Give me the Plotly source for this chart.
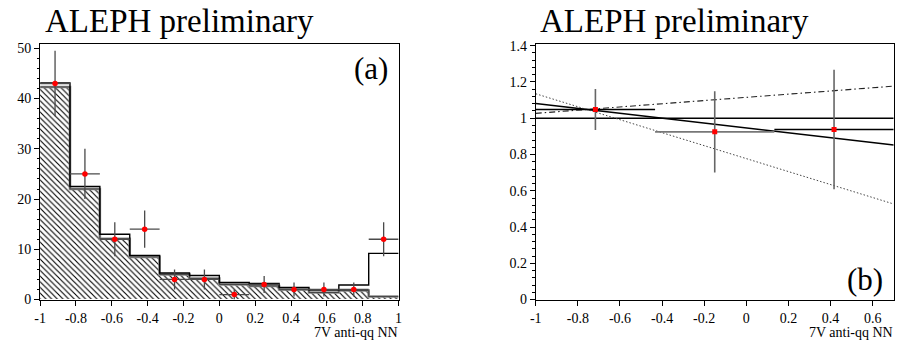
import numpy as np
import plotly.graph_objects as go

# ---------------- panel (a) data ----------------
bin_edges = [-1.0, -5/6, -4/6, -3/6, -2/6, -1/6, 0.0, 1/6, 2/6, 3/6, 4/6, 5/6, 1.0]
data_counts = [43, 25, 12, 14, 4, 4, 1, 3, 2, 2, 2, 12]
data_errors = [6.5, 5.0, 3.4, 3.7, 2.0, 2.0, 1.0, 1.7, 1.4, 1.4, 1.4, 3.4]
mc_total = [43.1, 22.5, 13.0, 8.8, 5.3, 4.8, 3.4, 3.2, 2.4, 1.9, 2.9, 9.2]
mc_background = [42.3, 22.0, 12.1, 8.5, 5.0, 4.2, 3.0, 2.7, 2.0, 1.4, 1.8, 0.6]
x_tick_vals_a = [-1, -0.8, -0.6, -0.4, -0.2, 0, 0.2, 0.4, 0.6, 0.8, 1]
x_tick_text_a = ["-1", "-0.8", "-0.6", "-0.4", "-0.2", "0", "0.2", "0.4", "0.6", "0.8", "1"]
y_tick_vals_a = [0, 10, 20, 30, 40, 50]

# ---------------- panel (b) data ----------------
ratio_edges = [-1.0, -0.4333, 0.1333, 0.7]
ratio_values = [1.048, 0.925, 0.938]
ratio_errors = [0.113, 0.224, 0.33]
fit_x = [-1.0, 0.7]
unity_y = [1.0, 1.0]
fit_central_y = [1.081, 0.853]
fit_up_y = [1.027, 1.177]
fit_down_y = [1.135, 0.527]
x_tick_vals_b = [-1, -0.8, -0.6, -0.4, -0.2, 0, 0.2, 0.4, 0.6]
x_tick_text_b = ["-1", "-0.8", "-0.6", "-0.4", "-0.2", "0", "0.2", "0.4", "0.6"]
y_tick_vals_b = [0, 0.2, 0.4, 0.6, 0.8, 1, 1.2, 1.4]
y_tick_text_b = ["0", "0.2", "0.4", "0.6", "0.8", "1", "1.2", "1.4"]

# ---------------- styling ----------------
W, H = 899, 348
FONT = "Liberation Serif"
ERR_COL = "#4a4a4a"
hbar_colors_b = ["black", "#777777", "black"]


def px_x(p):
    return p / W


def px_y(p):
    return 1 - p / H


edges = np.array(bin_edges)
centers = (edges[:-1] + edges[1:]) / 2
widths = edges[1:] - edges[:-1]

fig = go.Figure()

# hatched background
fig.add_trace(go.Bar(
    x=centers, y=mc_background, width=widths, xaxis="x", yaxis="y",
    marker=dict(color="white", line=dict(width=0),
                pattern=dict(shape="\\", size=4, solidity=0.28,
                             fgcolor="black", bgcolor="white", fillmode="replace")),
    showlegend=False, hoverinfo="skip"))

# background outline (gray band)
fig.add_trace(go.Scatter(
    x=edges, y=list(mc_background) + [mc_background[-1]], mode="lines",
    line=dict(shape="hv", color="#8a8a8a", width=2.6), xaxis="x", yaxis="y",
    showlegend=False, hoverinfo="skip"))
fig.add_trace(go.Scatter(
    x=edges, y=list(mc_background) + [mc_background[-1]], mode="lines",
    line=dict(shape="hv", color="#333333", width=0.8), xaxis="x", yaxis="y",
    showlegend=False, hoverinfo="skip"))

# total MC outline
fig.add_trace(go.Scatter(
    x=edges, y=list(mc_total) + [mc_total[-1]], mode="lines",
    line=dict(shape="hv", color="black", width=1.4), xaxis="x", yaxis="y",
    showlegend=False, hoverinfo="skip"))

# data points
fig.add_trace(go.Scatter(
    x=centers, y=data_counts, mode="markers", xaxis="x", yaxis="y",
    marker=dict(color="red", size=5.5, symbol="circle", line=dict(width=0)),
    error_y=dict(type="data", array=data_errors, color=ERR_COL, thickness=1.3, width=0),
    error_x=dict(type="data", array=list(widths / 2), color=ERR_COL, thickness=1.3, width=0),
    showlegend=False, hoverinfo="skip"))

# ---------------- panel (b) ----------------
fig.add_trace(go.Scatter(x=fit_x, y=unity_y, mode="lines", xaxis="x2", yaxis="y2",
                         line=dict(color="black", width=1.3), showlegend=False, hoverinfo="skip"))
fig.add_trace(go.Scatter(x=fit_x, y=fit_central_y, mode="lines", xaxis="x2", yaxis="y2",
                         line=dict(color="black", width=1.5), showlegend=False, hoverinfo="skip"))
fig.add_trace(go.Scatter(x=fit_x, y=fit_up_y, mode="lines", xaxis="x2", yaxis="y2",
                         line=dict(color="#222222", width=1.1, dash="6px,3px,1.5px,3px"),
                         showlegend=False, hoverinfo="skip"))
fig.add_trace(go.Scatter(x=fit_x, y=fit_down_y, mode="lines", xaxis="x2", yaxis="y2",
                         line=dict(color="#444444", width=1.0, dash="1.5px,2px"),
                         showlegend=False, hoverinfo="skip"))

r_edges = np.array(ratio_edges)
r_centers = (r_edges[:-1] + r_edges[1:]) / 2
r_half = (r_edges[1:] - r_edges[:-1]) / 2
for i in range(len(ratio_values)):
    fig.add_trace(go.Scatter(
        x=[r_centers[i]], y=[ratio_values[i]], mode="markers", xaxis="x2", yaxis="y2",
        marker=dict(color="red", size=5, symbol="square", line=dict(width=0)),
        error_y=dict(type="data", array=[ratio_errors[i]], color="#666666", thickness=1.6, width=0),
        error_x=dict(type="data", array=[r_half[i]], color=hbar_colors_b[i], thickness=1.6, width=0),
        showlegend=False, hoverinfo="skip"))

axis_common = dict(showline=True, linecolor="black", linewidth=1, mirror=True,
                   ticks="outside", ticklen=5, tickcolor="black", tickwidth=1,
                   showgrid=False, zeroline=False,
                   tickfont=dict(family=FONT, size=14, color="black"))

fig.update_layout(
    width=W, height=H, margin=dict(l=0, r=0, t=0, b=0),
    paper_bgcolor="white", plot_bgcolor="white", showlegend=False,
    barmode="overlay", bargap=0,
    xaxis=dict(domain=[px_x(34.5), px_x(397)], range=[-1, 1], anchor="y",
               tickmode="array", tickvals=x_tick_vals_a, ticktext=x_tick_text_a,
               ticklabelstandoff=1, **axis_common),
    yaxis=dict(domain=[px_y(306), px_y(40.7)], range=[0, 50.82], anchor="x",
               tickmode="array", tickvals=y_tick_vals_a,
               minor=dict(tickmode="linear", tick0=0, dtick=2, ticklen=2.5,
                          ticks="outside", tickcolor="black"),
               **axis_common),
    xaxis2=dict(domain=[px_x(535.7), px_x(897.7)], range=[-1, 0.7], anchor="y2",
                tickmode="array", tickvals=x_tick_vals_b, ticktext=x_tick_text_b,
                ticklabelstandoff=1, **axis_common),
    yaxis2=dict(domain=[px_y(306), px_y(40.7)], range=[0, 1.4085], anchor="x2",
                tickmode="array", tickvals=y_tick_vals_b, ticktext=y_tick_text_b,
                minor=dict(tickmode="linear", tick0=0, dtick=0.04, ticklen=2.5,
                           ticks="outside", tickcolor="black"),
                **axis_common),
)

ann = []
ann.append(dict(text="ALEPH preliminary", x=px_x(37), y=px_y(17), xref="paper", yref="paper",
                xanchor="left", yanchor="middle", showarrow=False,
                font=dict(family=FONT, size=33, color="black")))
ann.append(dict(text="ALEPH preliminary", x=px_x(538), y=px_y(17), xref="paper", yref="paper",
                xanchor="left", yanchor="middle", showarrow=False,
                font=dict(family=FONT, size=33, color="black")))
ann.append(dict(text="7V anti-qq NN", x=px_x(397), y=px_y(349.5), xref="paper", yref="paper",
                xanchor="right", yanchor="bottom", showarrow=False, borderpad=0,
                font=dict(family=FONT, size=14, color="black")))
ann.append(dict(text="7V anti-qq NN", x=px_x(898), y=px_y(349.5), xref="paper", yref="paper",
                xanchor="right", yanchor="bottom", showarrow=False, borderpad=0,
                font=dict(family=FONT, size=14, color="black")))
ann.append(dict(text="(a)", x=px_x(388), y=px_y(66), xref="paper", yref="paper",
                xanchor="right", yanchor="middle", showarrow=False,
                font=dict(family=FONT, size=31, color="black")))
ann.append(dict(text="(b)", x=px_x(889), y=px_y(285), xref="paper", yref="paper",
                xanchor="right", yanchor="middle", showarrow=False,
                font=dict(family=FONT, size=31, color="black")))
fig.update_layout(annotations=ann)

fig.write_html("out.html", config={"displayModeBar": False},
               post_script="document.body.style.margin='0';document.body.style.padding='0';")
